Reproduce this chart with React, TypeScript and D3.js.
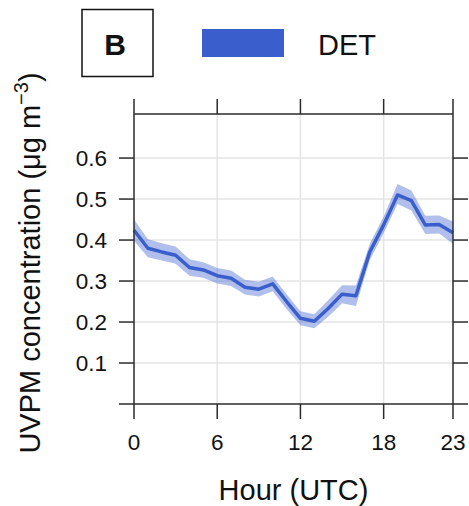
import React from "react";
import * as d3 from "d3";

const hours = [0,1,2,3,4,5,6,7,8,9,10,11,12,13,14,15,16,17,18,19,20,21,22,23];
const meanDET = [0.424,0.380,0.371,0.363,0.333,0.327,0.313,0.307,0.285,0.280,0.293,0.250,0.209,0.202,0.233,0.268,0.264,0.371,0.437,0.510,0.496,0.437,0.438,0.418];
const upperDET = [0.450,0.402,0.392,0.384,0.353,0.346,0.332,0.326,0.303,0.298,0.311,0.268,0.226,0.219,0.253,0.290,0.289,0.391,0.457,0.537,0.521,0.459,0.460,0.445];
const lowerDET = [0.398,0.358,0.350,0.342,0.313,0.308,0.294,0.288,0.267,0.262,0.275,0.232,0.192,0.185,0.213,0.246,0.239,0.351,0.417,0.488,0.472,0.415,0.416,0.391];
const xTicks = [0, 6, 12, 18, 23];
const yTicks = [0.1, 0.2, 0.3, 0.4, 0.5, 0.6];
const seriesName = "DET";
const panelLabel = "B";

const W = 469, H = 506;
const L = 134, R = 453, T = 114, B = 404;
const COLOR = "#3a5fcd";
const AXIS = "#2b2b2b";
const FONT = "'Liberation Sans', Arial, sans-serif";

export default function App() {
  const x = d3.scaleLinear().domain([0, 23]).range([L, R]);
  const y = d3.scaleLinear().domain([0, 0.7075]).range([B, T]);
  const data = hours.map((h, i) => ({ h, m: meanDET[i], lo: lowerDET[i], hi: upperDET[i] }));
  const area = d3.area<any>().x(d => x(d.h)).y0(d => y(d.lo)).y1(d => y(d.hi));
  const line = d3.line<any>().x(d => x(d.h)).y(d => y(d.m));
  const tl = 15;
  const gx = xTicks.filter(t => t !== 0 && t !== 23);
  return (
    <svg width={W} height={H} style={{ position: "absolute", left: 0, top: 0, background: "#fff" }} fontFamily={FONT}>
      <rect x={0} y={0} width={W} height={H} fill="#fff" />
      {gx.map(t => (
        <line key={"gx" + t} x1={x(t)} x2={x(t)} y1={T} y2={B} stroke="#e4e4e4" strokeWidth={1.5} />
      ))}
      {yTicks.map(t => (
        <line key={"gy" + t} x1={L} x2={R} y1={y(t)} y2={y(t)} stroke="#e4e4e4" strokeWidth={1.5} />
      ))}
      <path d={area(data) || ""} fill={COLOR} fillOpacity={0.4} />
      <path d={line(data) || ""} fill="none" stroke={COLOR} strokeWidth={3.5} strokeLinejoin="round" />
      <g stroke={AXIS} strokeWidth={1.5} fill="none">
        <line x1={L} x2={R} y1={T} y2={T} />
        <line x1={L - tl} x2={R + tl} y1={B} y2={B} />
        <line x1={L} x2={L} y1={T - tl} y2={B + tl} />
        <line x1={R} x2={R} y1={T - tl} y2={B + tl} />
        {gx.map(t => (
          <g key={"tx" + t}>
            <line x1={x(t)} x2={x(t)} y1={T - tl} y2={T} />
            <line x1={x(t)} x2={x(t)} y1={B} y2={B + tl} />
          </g>
        ))}
        {yTicks.map(t => (
          <g key={"ty" + t}>
            <line x1={L - tl} x2={L} y1={y(t)} y2={y(t)} />
            <line x1={R} x2={R + tl} y1={y(t)} y2={y(t)} />
          </g>
        ))}
      </g>
      {xTicks.map(t => (
        <text key={"lx" + t} x={x(t)} y={450} textAnchor="middle" fontSize={22.5} fill="#111">{t}</text>
      ))}
      {yTicks.map(t => (
        <text key={"ly" + t} x={107} y={y(t) + 8} textAnchor="end" fontSize={22.5} fill="#111">{t.toFixed(1)}</text>
      ))}
      <text x={(L + R) / 2} y={500} textAnchor="middle" fontSize={29} fill="#111">Hour (UTC)</text>
      <text transform={`translate(40,${(T + B) / 2 + 4}) rotate(-90)`} textAnchor="middle" fontSize={29} fill="#111">
        UVPM concentration (μg m<tspan fontSize={20} dy={-12}>−3</tspan><tspan dy={12}>)</tspan>
      </text>
      <rect x={82} y={9.5} width={71} height={67} fill="none" stroke="#111" strokeWidth={1.5} />
      <text x={115} y={55} textAnchor="middle" fontSize={30} fontWeight="bold" fill="#111">{panelLabel}</text>
      <rect x={202} y={29} width={82} height={28} fill={COLOR} />
      <text x={318} y={55} fontSize={29} fill="#111">{seriesName}</text>
    </svg>
  );
}
